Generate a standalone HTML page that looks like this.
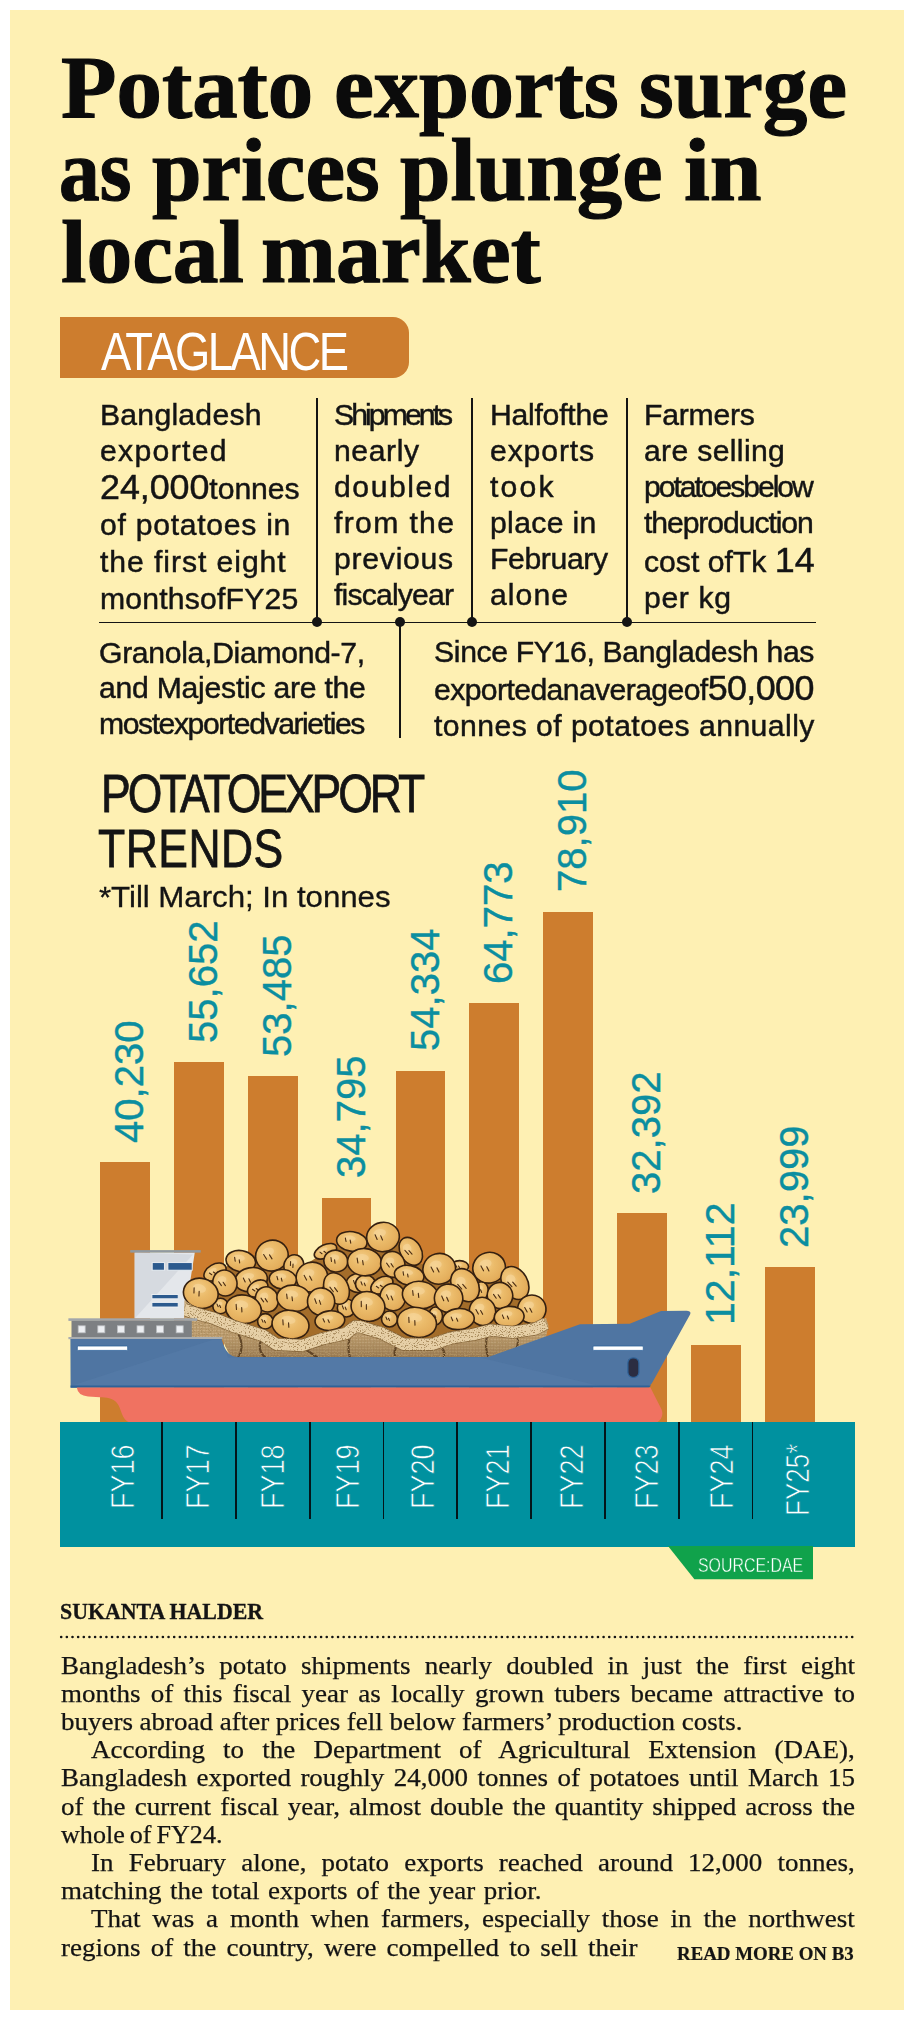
<!DOCTYPE html>
<html lang="en"><head><meta charset="utf-8"><title>Potato exports surge as prices plunge in local market</title>
<style>
html,body{margin:0;padding:0;background:#fff;}
body{width:914px;height:2020px;position:relative;overflow:hidden;font-family:"Liberation Sans",sans-serif;}
#panel{position:absolute;left:10px;top:10px;width:894px;height:2000px;background:#FEF0B3;}
.abs{position:absolute;}
.body{position:absolute;left:60px;width:795px;font-family:"Liberation Serif",serif;font-size:24px;line-height:28.2px;color:#141414;white-space:nowrap;text-align:justify;text-align-last:justify;}
</style></head><body>
<div id="panel"></div>
<div class="abs" style="left:59.70px;top:317.10px;width:349.70px;height:60.70px;background:#CD7D2E;border-radius:0 16px 16px 0;"></div>
<div class="abs" style="left:99.00px;top:621.60px;width:717.00px;height:1.60px;background:#141414;"></div>
<div class="abs" style="left:316.20px;top:398.00px;width:1.60px;height:224.00px;background:#141414;"></div>
<div class="abs" style="left:471.20px;top:398.00px;width:1.60px;height:224.00px;background:#141414;"></div>
<div class="abs" style="left:626.20px;top:398.00px;width:1.60px;height:224.00px;background:#141414;"></div>
<div class="abs" style="left:399.20px;top:622.00px;width:1.60px;height:116.00px;background:#141414;"></div>
<div class="abs" style="left:312.00px;top:617.40px;width:10.00px;height:10.00px;background:#141414;border-radius:50%;"></div>
<div class="abs" style="left:395.00px;top:617.40px;width:10.00px;height:10.00px;background:#141414;border-radius:50%;"></div>
<div class="abs" style="left:467.00px;top:617.40px;width:10.00px;height:10.00px;background:#141414;border-radius:50%;"></div>
<div class="abs" style="left:622.00px;top:617.40px;width:10.00px;height:10.00px;background:#141414;border-radius:50%;"></div>
<div class="abs" style="left:100.10px;top:1162.31px;width:49.80px;height:261.69px;background:#CD7D2E;"></div>
<div class="abs" style="left:173.95px;top:1062.38px;width:49.80px;height:361.62px;background:#CD7D2E;"></div>
<div class="abs" style="left:247.80px;top:1076.42px;width:49.80px;height:347.58px;background:#CD7D2E;"></div>
<div class="abs" style="left:321.65px;top:1197.53px;width:49.80px;height:226.47px;background:#CD7D2E;"></div>
<div class="abs" style="left:395.50px;top:1070.92px;width:49.80px;height:353.08px;background:#CD7D2E;"></div>
<div class="abs" style="left:469.35px;top:1003.27px;width:49.80px;height:420.73px;background:#CD7D2E;"></div>
<div class="abs" style="left:543.20px;top:911.66px;width:49.80px;height:512.34px;background:#CD7D2E;"></div>
<div class="abs" style="left:617.05px;top:1213.10px;width:49.80px;height:210.90px;background:#CD7D2E;"></div>
<div class="abs" style="left:690.90px;top:1344.51px;width:49.80px;height:79.49px;background:#CD7D2E;"></div>
<div class="abs" style="left:764.75px;top:1267.49px;width:49.80px;height:156.51px;background:#CD7D2E;"></div>
<svg class="abs" style="left:60px;top:1220px" width="640" height="205" viewBox="0 0 640 205">
<defs>
<radialGradient id="pg" cx="0.4" cy="0.35" r="0.85"><stop offset="0" stop-color="#F4CE8A"/><stop offset="0.35" stop-color="#EBBB6A"/><stop offset="0.68" stop-color="#E4AE5C"/><stop offset="0.88" stop-color="#CF9140"/><stop offset="1" stop-color="#B87A2C"/></radialGradient>
<pattern id="burlap" width="4" height="4" patternUnits="userSpaceOnUse"><rect width="4" height="4" fill="#E3CBA0"/><path d="M0 1H4M0 3H4" stroke="#B6935F" stroke-width="0.7"/><path d="M1 0V4M3 0V4" stroke="#CDAE7E" stroke-width="0.6"/></pattern>
<pattern id="burlap2" width="3" height="3" patternUnits="userSpaceOnUse"><rect width="3" height="3" fill="#D3B689"/><path d="M0 1H3" stroke="#A5804F" stroke-width="0.6"/><path d="M1.5 0V3" stroke="#BC9A68" stroke-width="0.5"/></pattern>
<linearGradient id="sackshade" x1="0" y1="0" x2="0" y2="1"><stop offset="0" stop-color="#5a3a18" stop-opacity="0"/><stop offset="0.6" stop-color="#5a3a18" stop-opacity="0.1"/><stop offset="1" stop-color="#4a2c10" stop-opacity="0.4"/></linearGradient>
<filter id="speck" x="0" y="0" width="100%" height="100%"><feTurbulence type="fractalNoise" baseFrequency="0.75 0.9" numOctaves="2" seed="3" result="n"/><feColorMatrix in="n" type="matrix" values="0 0 0 0 0.42  0 0 0 0 0.28  0 0 0 0 0.12  0 0 0 -9 3.95" result="sp"/><feComposite in="sp" in2="SourceGraphic" operator="in" result="spc"/><feMerge><feMergeNode in="SourceGraphic"/><feMergeNode in="spc"/></feMerge></filter>
</defs>
<polygon points="74.7,32.4 134.8,32.4 124.3,98.5 74.7,98.5" fill="#E4E7EB"/>
<polygon points="74.7,32.4 133.0,34.4 74.7,98.5" fill="#D6DAE0"/>
<rect x="70.2" y="30.1" width="70.5" height="2.5" fill="#9199A0"/>
<rect x="92.2" y="42.6" width="12.2" height="7.6" fill="#2C5A8E" stroke="#F2F4F6" stroke-width="0.9"/>
<rect x="107.9" y="42.6" width="24.3" height="7.6" fill="#2C5A8E" stroke="#F2F4F6" stroke-width="0.9"/>
<rect x="91.9" y="74.5" width="26.3" height="4.3" fill="#2C5A8E" stroke="#F2F4F6" stroke-width="0.9"/>
<rect x="91.9" y="82.4" width="26.3" height="4.6" fill="#2C5A8E" stroke="#F2F4F6" stroke-width="0.9"/>
<polygon points="132.0,80.0 136.0,70.0 148.0,64.0 158.0,54.0 172.0,42.0 192.0,36.0 204.0,32.0 216.0,30.0 226.0,34.0 232.0,44.0 243.0,46.0 256.0,38.0 272.0,32.0 285.0,23.0 306.0,16.0 322.0,12.0 334.0,16.0 342.0,26.0 354.0,30.0 360.0,44.0 376.0,44.0 390.0,46.0 398.0,54.0 414.0,50.0 428.0,42.0 440.0,46.0 446.0,56.0 458.0,60.0 464.0,72.0 468.0,82.0 478.0,86.0 482.0,98.0 482.0,120.0 136.0,120.0" fill="#A46D2A"/>
<g transform="translate(155.0 52.0) rotate(-30)"><ellipse rx="12.0" ry="7.7" fill="url(#pg)" stroke="#352010" stroke-width="1.6"/><ellipse cx="-1.8" cy="-2.3" rx="4.6" ry="2.2" fill="#F7D79C" opacity="0.6"/><path d="M-5.4 -1.9 l1.2 2.7 M-1.4 -0.8 l1 2.3" stroke="#4a2c12" stroke-width="1.1" stroke-linecap="round" fill="none"/></g>
<g transform="translate(265.5 31.3) rotate(-25)"><ellipse rx="12.0" ry="6.6" fill="url(#pg)" stroke="#352010" stroke-width="1.6"/><ellipse cx="-1.8" cy="-2.0" rx="4.6" ry="1.8" fill="#F7D79C" opacity="0.6"/><path d="M-5.4 -1.6 l1.2 2.3 M-1.4 -0.7 l1 2.0" stroke="#4a2c12" stroke-width="1.1" stroke-linecap="round" fill="none"/></g>
<g transform="translate(299.4 63.0) rotate(0)"><ellipse rx="13.0" ry="9.8" fill="url(#pg)" stroke="#352010" stroke-width="1.6"/><ellipse cx="-1.9" cy="-2.9" rx="4.9" ry="2.7" fill="#F7D79C" opacity="0.6"/><path d="M-5.9 -2.5 l1.2 3.4 M-1.6 -1.0 l1 2.9" stroke="#4a2c12" stroke-width="1.1" stroke-linecap="round" fill="none"/></g>
<g transform="translate(305.5 64.0) rotate(0)"><ellipse rx="10.0" ry="9.0" fill="url(#pg)" stroke="#352010" stroke-width="1.6"/><ellipse cx="-1.5" cy="-2.7" rx="3.8" ry="2.5" fill="#F7D79C" opacity="0.6"/><path d="M-4.5 -2.2 l1.2 3.1 M-1.2 -0.9 l1 2.7" stroke="#4a2c12" stroke-width="1.1" stroke-linecap="round" fill="none"/></g>
<g transform="translate(399.6 46.6) rotate(0)"><ellipse rx="9.0" ry="6.0" fill="url(#pg)" stroke="#352010" stroke-width="1.6"/><ellipse cx="-1.3" cy="-1.8" rx="3.4" ry="1.7" fill="#F7D79C" opacity="0.6"/><path d="M-4.0 -1.5 l1.2 2.1 M-1.1 -0.6 l1 1.8" stroke="#4a2c12" stroke-width="1.1" stroke-linecap="round" fill="none"/></g>
<g transform="translate(421.4 70.6) rotate(0)"><ellipse rx="7.0" ry="9.0" fill="url(#pg)" stroke="#352010" stroke-width="1.6"/><ellipse cx="-1.1" cy="-2.7" rx="2.7" ry="2.5" fill="#F7D79C" opacity="0.6"/><path d="M-3.1 -2.2 l1.2 3.1 M-0.8 -0.9 l1 2.7" stroke="#4a2c12" stroke-width="1.1" stroke-linecap="round" fill="none"/></g>
<g transform="translate(286.3 88.0) rotate(0)"><ellipse rx="9.0" ry="9.0" fill="url(#pg)" stroke="#352010" stroke-width="1.6"/><ellipse cx="-1.3" cy="-2.7" rx="3.4" ry="2.5" fill="#F7D79C" opacity="0.6"/><path d="M-4.0 -2.2 l1.2 3.1 M-1.1 -0.9 l1 2.7" stroke="#4a2c12" stroke-width="1.1" stroke-linecap="round" fill="none"/></g>
<g transform="translate(329.5 99.0) rotate(0)"><ellipse rx="8.0" ry="8.0" fill="url(#pg)" stroke="#352010" stroke-width="1.6"/><ellipse cx="-1.2" cy="-2.4" rx="3.0" ry="2.2" fill="#F7D79C" opacity="0.6"/><path d="M-3.6 -2.0 l1.2 2.8 M-1.0 -0.8 l1 2.4" stroke="#4a2c12" stroke-width="1.1" stroke-linecap="round" fill="none"/></g>
<g transform="translate(375.5 96.0) rotate(0)"><ellipse rx="7.0" ry="9.0" fill="url(#pg)" stroke="#352010" stroke-width="1.6"/><ellipse cx="-1.1" cy="-2.7" rx="2.7" ry="2.5" fill="#F7D79C" opacity="0.6"/><path d="M-3.1 -2.2 l1.2 3.1 M-0.8 -0.9 l1 2.7" stroke="#4a2c12" stroke-width="1.1" stroke-linecap="round" fill="none"/></g>
<g transform="translate(205.3 101.3) rotate(0)"><ellipse rx="7.7" ry="7.7" fill="url(#pg)" stroke="#352010" stroke-width="1.6"/><ellipse cx="-1.2" cy="-2.3" rx="2.9" ry="2.2" fill="#F7D79C" opacity="0.6"/><path d="M-3.5 -1.9 l1.2 2.7 M-0.9 -0.8 l1 2.3" stroke="#4a2c12" stroke-width="1.1" stroke-linecap="round" fill="none"/></g>
<g transform="translate(160.5 86.0) rotate(0)"><ellipse rx="7.7" ry="7.7" fill="url(#pg)" stroke="#352010" stroke-width="1.6"/><ellipse cx="-1.2" cy="-2.3" rx="2.9" ry="2.2" fill="#F7D79C" opacity="0.6"/><path d="M-3.5 -1.9 l1.2 2.7 M-0.9 -0.8 l1 2.3" stroke="#4a2c12" stroke-width="1.1" stroke-linecap="round" fill="none"/></g>
<g transform="translate(323.0 17.0) rotate(-10)"><ellipse rx="16.4" ry="14.6" fill="url(#pg)" stroke="#352010" stroke-width="1.6"/><ellipse cx="-2.5" cy="-4.4" rx="6.2" ry="4.1" fill="#F7D79C" opacity="0.6"/><path d="M-7.4 -3.6 l1.2 5.1 M-2.0 -1.5 l1 4.4" stroke="#4a2c12" stroke-width="1.1" stroke-linecap="round" fill="none"/></g>
<g transform="translate(291.8 21.4) rotate(8)"><ellipse rx="15.3" ry="9.8" fill="url(#pg)" stroke="#352010" stroke-width="1.6"/><ellipse cx="-2.3" cy="-2.9" rx="5.8" ry="2.7" fill="#F7D79C" opacity="0.6"/><path d="M-6.9 -2.5 l1.2 3.4 M-1.8 -1.0 l1 2.9" stroke="#4a2c12" stroke-width="1.1" stroke-linecap="round" fill="none"/></g>
<g transform="translate(350.8 31.3) rotate(-30)"><ellipse rx="10.5" ry="14.9" fill="url(#pg)" stroke="#352010" stroke-width="1.6"/><ellipse cx="-1.6" cy="-4.5" rx="4.0" ry="4.2" fill="#F7D79C" opacity="0.6"/><path d="M-4.7 -3.7 l1.2 5.2 M-1.3 -1.5 l1 4.5" stroke="#4a2c12" stroke-width="1.1" stroke-linecap="round" fill="none"/></g>
<g transform="translate(211.9 35.6) rotate(-20)"><ellipse rx="16.4" ry="15.3" fill="url(#pg)" stroke="#352010" stroke-width="1.6"/><ellipse cx="-2.5" cy="-4.6" rx="6.2" ry="4.3" fill="#F7D79C" opacity="0.6"/><path d="M-7.4 -3.8 l1.2 5.4 M-2.0 -1.5 l1 4.6" stroke="#4a2c12" stroke-width="1.1" stroke-linecap="round" fill="none"/></g>
<g transform="translate(180.8 41.1) rotate(10)"><ellipse rx="14.9" ry="10.5" fill="url(#pg)" stroke="#352010" stroke-width="1.6"/><ellipse cx="-2.2" cy="-3.1" rx="5.7" ry="2.9" fill="#F7D79C" opacity="0.6"/><path d="M-6.7 -2.6 l1.2 3.7 M-1.8 -1.1 l1 3.1" stroke="#4a2c12" stroke-width="1.1" stroke-linecap="round" fill="none"/></g>
<g transform="translate(275.8 41.1) rotate(10)"><ellipse rx="12.0" ry="10.9" fill="url(#pg)" stroke="#352010" stroke-width="1.6"/><ellipse cx="-1.8" cy="-3.3" rx="4.6" ry="3.1" fill="#F7D79C" opacity="0.6"/><path d="M-5.4 -2.7 l1.2 3.8 M-1.4 -1.1 l1 3.3" stroke="#4a2c12" stroke-width="1.1" stroke-linecap="round" fill="none"/></g>
<g transform="translate(304.5 42.2) rotate(5)"><ellipse rx="17.0" ry="13.6" fill="url(#pg)" stroke="#352010" stroke-width="1.6"/><ellipse cx="-2.5" cy="-4.1" rx="6.5" ry="3.8" fill="#F7D79C" opacity="0.6"/><path d="M-7.7 -3.4 l1.2 4.8 M-2.0 -1.4 l1 4.1" stroke="#4a2c12" stroke-width="1.1" stroke-linecap="round" fill="none"/></g>
<g transform="translate(233.8 45.5) rotate(20)"><ellipse rx="9.8" ry="10.9" fill="url(#pg)" stroke="#352010" stroke-width="1.6"/><ellipse cx="-1.5" cy="-3.3" rx="3.7" ry="3.1" fill="#F7D79C" opacity="0.6"/><path d="M-4.4 -2.7 l1.2 3.8 M-1.2 -1.1 l1 3.3" stroke="#4a2c12" stroke-width="1.1" stroke-linecap="round" fill="none"/></g>
<g transform="translate(332.8 44.4) rotate(-20)"><ellipse rx="12.0" ry="13.1" fill="url(#pg)" stroke="#352010" stroke-width="1.6"/><ellipse cx="-1.8" cy="-3.9" rx="4.6" ry="3.7" fill="#F7D79C" opacity="0.6"/><path d="M-5.4 -3.3 l1.2 4.6 M-1.4 -1.3 l1 3.9" stroke="#4a2c12" stroke-width="1.1" stroke-linecap="round" fill="none"/></g>
<g transform="translate(379.2 48.8) rotate(-15)"><ellipse rx="16.4" ry="15.3" fill="url(#pg)" stroke="#352010" stroke-width="1.6"/><ellipse cx="-2.5" cy="-4.6" rx="6.2" ry="4.3" fill="#F7D79C" opacity="0.6"/><path d="M-7.4 -3.8 l1.2 5.4 M-2.0 -1.5 l1 4.6" stroke="#4a2c12" stroke-width="1.1" stroke-linecap="round" fill="none"/></g>
<g transform="translate(429.1 47.7) rotate(-15)"><ellipse rx="16.4" ry="15.3" fill="url(#pg)" stroke="#352010" stroke-width="1.6"/><ellipse cx="-2.5" cy="-4.6" rx="6.2" ry="4.3" fill="#F7D79C" opacity="0.6"/><path d="M-7.4 -3.8 l1.2 5.4 M-2.0 -1.5 l1 4.6" stroke="#4a2c12" stroke-width="1.1" stroke-linecap="round" fill="none"/></g>
<g transform="translate(349.2 55.3) rotate(10)"><ellipse rx="14.9" ry="9.8" fill="url(#pg)" stroke="#352010" stroke-width="1.6"/><ellipse cx="-2.2" cy="-2.9" rx="5.7" ry="2.7" fill="#F7D79C" opacity="0.6"/><path d="M-6.7 -2.5 l1.2 3.4 M-1.8 -1.0 l1 2.9" stroke="#4a2c12" stroke-width="1.1" stroke-linecap="round" fill="none"/></g>
<g transform="translate(251.9 57.1) rotate(-15)"><ellipse rx="15.8" ry="14.9" fill="url(#pg)" stroke="#352010" stroke-width="1.6"/><ellipse cx="-2.4" cy="-4.5" rx="6.0" ry="4.2" fill="#F7D79C" opacity="0.6"/><path d="M-7.1 -3.7 l1.2 5.2 M-1.9 -1.5 l1 4.5" stroke="#4a2c12" stroke-width="1.1" stroke-linecap="round" fill="none"/></g>
<g transform="translate(222.8 59.3) rotate(5)"><ellipse rx="13.6" ry="9.8" fill="url(#pg)" stroke="#352010" stroke-width="1.6"/><ellipse cx="-2.0" cy="-2.9" rx="5.2" ry="2.7" fill="#F7D79C" opacity="0.6"/><path d="M-6.1 -2.5 l1.2 3.4 M-1.6 -1.0 l1 2.9" stroke="#4a2c12" stroke-width="1.1" stroke-linecap="round" fill="none"/></g>
<g transform="translate(191.1 59.7) rotate(-10)"><ellipse rx="16.4" ry="12.0" fill="url(#pg)" stroke="#352010" stroke-width="1.6"/><ellipse cx="-2.5" cy="-3.6" rx="6.2" ry="3.4" fill="#F7D79C" opacity="0.6"/><path d="M-7.4 -3.0 l1.2 4.2 M-2.0 -1.2 l1 3.6" stroke="#4a2c12" stroke-width="1.1" stroke-linecap="round" fill="none"/></g>
<g transform="translate(164.9 63.0) rotate(-20)"><ellipse rx="12.0" ry="13.1" fill="url(#pg)" stroke="#352010" stroke-width="1.6"/><ellipse cx="-1.8" cy="-3.9" rx="4.6" ry="3.7" fill="#F7D79C" opacity="0.6"/><path d="M-5.4 -3.3 l1.2 4.6 M-1.4 -1.3 l1 3.9" stroke="#4a2c12" stroke-width="1.1" stroke-linecap="round" fill="none"/></g>
<g transform="translate(405.0 65.2) rotate(-30)"><ellipse rx="13.1" ry="17.5" fill="url(#pg)" stroke="#352010" stroke-width="1.6"/><ellipse cx="-2.0" cy="-5.2" rx="5.0" ry="4.9" fill="#F7D79C" opacity="0.6"/><path d="M-5.9 -4.4 l1.2 6.1 M-1.6 -1.8 l1 5.2" stroke="#4a2c12" stroke-width="1.1" stroke-linecap="round" fill="none"/></g>
<g transform="translate(454.9 63.0) rotate(-30)"><ellipse rx="12.7" ry="17.5" fill="url(#pg)" stroke="#352010" stroke-width="1.6"/><ellipse cx="-1.9" cy="-5.2" rx="4.8" ry="4.9" fill="#F7D79C" opacity="0.6"/><path d="M-5.7 -4.4 l1.2 6.1 M-1.5 -1.8 l1 5.2" stroke="#4a2c12" stroke-width="1.1" stroke-linecap="round" fill="none"/></g>
<g transform="translate(321.9 65.2) rotate(-30)"><ellipse rx="12.0" ry="7.7" fill="url(#pg)" stroke="#352010" stroke-width="1.6"/><ellipse cx="-1.8" cy="-2.3" rx="4.6" ry="2.2" fill="#F7D79C" opacity="0.6"/><path d="M-5.4 -1.9 l1.2 2.7 M-1.4 -0.8 l1 2.3" stroke="#4a2c12" stroke-width="1.1" stroke-linecap="round" fill="none"/></g>
<g transform="translate(276.5 68.5) rotate(-25)"><ellipse rx="12.0" ry="16.4" fill="url(#pg)" stroke="#352010" stroke-width="1.6"/><ellipse cx="-1.8" cy="-4.9" rx="4.6" ry="4.6" fill="#F7D79C" opacity="0.6"/><path d="M-5.4 -4.1 l1.2 5.7 M-1.4 -1.6 l1 4.9" stroke="#4a2c12" stroke-width="1.1" stroke-linecap="round" fill="none"/></g>
<g transform="translate(197.7 68.5) rotate(-30)"><ellipse rx="10.9" ry="7.7" fill="url(#pg)" stroke="#352010" stroke-width="1.6"/><ellipse cx="-1.6" cy="-2.3" rx="4.1" ry="2.2" fill="#F7D79C" opacity="0.6"/><path d="M-4.9 -1.9 l1.2 2.7 M-1.3 -0.8 l1 2.3" stroke="#4a2c12" stroke-width="1.1" stroke-linecap="round" fill="none"/></g>
<g transform="translate(140.8 73.3) rotate(15)"><ellipse rx="17.5" ry="14.9" fill="url(#pg)" stroke="#352010" stroke-width="1.6"/><ellipse cx="-2.6" cy="-4.5" rx="6.7" ry="4.2" fill="#F7D79C" opacity="0.6"/><path d="M-7.9 -3.7 l1.2 5.2 M-2.1 -1.5 l1 4.5" stroke="#4a2c12" stroke-width="1.1" stroke-linecap="round" fill="none"/></g>
<g transform="translate(206.9 79.4) rotate(-20)"><ellipse rx="11.4" ry="12.7" fill="url(#pg)" stroke="#352010" stroke-width="1.6"/><ellipse cx="-1.7" cy="-3.8" rx="4.3" ry="3.6" fill="#F7D79C" opacity="0.6"/><path d="M-5.1 -3.2 l1.2 4.4 M-1.4 -1.3 l1 3.8" stroke="#4a2c12" stroke-width="1.1" stroke-linecap="round" fill="none"/></g>
<g transform="translate(233.8 78.3) rotate(8)"><ellipse rx="17.0" ry="13.1" fill="url(#pg)" stroke="#352010" stroke-width="1.6"/><ellipse cx="-2.5" cy="-3.9" rx="6.5" ry="3.7" fill="#F7D79C" opacity="0.6"/><path d="M-7.7 -3.3 l1.2 4.6 M-2.0 -1.3 l1 3.9" stroke="#4a2c12" stroke-width="1.1" stroke-linecap="round" fill="none"/></g>
<g transform="translate(261.1 81.6) rotate(-5)"><ellipse rx="13.6" ry="13.6" fill="url(#pg)" stroke="#352010" stroke-width="1.6"/><ellipse cx="-2.0" cy="-4.1" rx="5.2" ry="3.8" fill="#F7D79C" opacity="0.6"/><path d="M-6.1 -3.4 l1.2 4.8 M-1.6 -1.4 l1 4.1" stroke="#4a2c12" stroke-width="1.1" stroke-linecap="round" fill="none"/></g>
<g transform="translate(332.8 77.2) rotate(-10)"><ellipse rx="12.7" ry="13.6" fill="url(#pg)" stroke="#352010" stroke-width="1.6"/><ellipse cx="-1.9" cy="-4.1" rx="4.8" ry="3.8" fill="#F7D79C" opacity="0.6"/><path d="M-5.7 -3.4 l1.2 4.8 M-1.5 -1.4 l1 4.1" stroke="#4a2c12" stroke-width="1.1" stroke-linecap="round" fill="none"/></g>
<g transform="translate(360.2 75.0) rotate(8)"><ellipse rx="17.9" ry="13.6" fill="url(#pg)" stroke="#352010" stroke-width="1.6"/><ellipse cx="-2.7" cy="-4.1" rx="6.8" ry="3.8" fill="#F7D79C" opacity="0.6"/><path d="M-8.1 -3.4 l1.2 4.8 M-2.1 -1.4 l1 4.1" stroke="#4a2c12" stroke-width="1.1" stroke-linecap="round" fill="none"/></g>
<g transform="translate(388.6 78.3) rotate(-10)"><ellipse rx="14.2" ry="14.2" fill="url(#pg)" stroke="#352010" stroke-width="1.6"/><ellipse cx="-2.1" cy="-4.3" rx="5.4" ry="4.0" fill="#F7D79C" opacity="0.6"/><path d="M-6.4 -3.5 l1.2 5.0 M-1.7 -1.4 l1 4.3" stroke="#4a2c12" stroke-width="1.1" stroke-linecap="round" fill="none"/></g>
<g transform="translate(440.0 75.5) rotate(-20)"><ellipse rx="12.7" ry="13.1" fill="url(#pg)" stroke="#352010" stroke-width="1.6"/><ellipse cx="-1.9" cy="-3.9" rx="4.8" ry="3.7" fill="#F7D79C" opacity="0.6"/><path d="M-5.7 -3.3 l1.2 4.6 M-1.5 -1.3 l1 3.9" stroke="#4a2c12" stroke-width="1.1" stroke-linecap="round" fill="none"/></g>
<g transform="translate(183.5 89.2) rotate(10)"><ellipse rx="17.9" ry="14.2" fill="url(#pg)" stroke="#352010" stroke-width="1.6"/><ellipse cx="-2.7" cy="-4.3" rx="6.8" ry="4.0" fill="#F7D79C" opacity="0.6"/><path d="M-8.1 -3.5 l1.2 5.0 M-2.1 -1.4 l1 4.3" stroke="#4a2c12" stroke-width="1.1" stroke-linecap="round" fill="none"/></g>
<g transform="translate(308.0 86.5) rotate(12)"><ellipse rx="17.0" ry="14.9" fill="url(#pg)" stroke="#352010" stroke-width="1.6"/><ellipse cx="-2.5" cy="-4.5" rx="6.5" ry="4.2" fill="#F7D79C" opacity="0.6"/><path d="M-7.7 -3.7 l1.2 5.2 M-2.0 -1.5 l1 4.5" stroke="#4a2c12" stroke-width="1.1" stroke-linecap="round" fill="none"/></g>
<g transform="translate(422.5 91.4) rotate(-15)"><ellipse rx="13.1" ry="14.2" fill="url(#pg)" stroke="#352010" stroke-width="1.6"/><ellipse cx="-2.0" cy="-4.3" rx="5.0" ry="4.0" fill="#F7D79C" opacity="0.6"/><path d="M-5.9 -3.5 l1.2 5.0 M-1.6 -1.4 l1 4.3" stroke="#4a2c12" stroke-width="1.1" stroke-linecap="round" fill="none"/></g>
<g transform="translate(471.8 89.2) rotate(-15)"><ellipse rx="14.2" ry="14.2" fill="url(#pg)" stroke="#352010" stroke-width="1.6"/><ellipse cx="-2.1" cy="-4.3" rx="5.4" ry="4.0" fill="#F7D79C" opacity="0.6"/><path d="M-6.4 -3.5 l1.2 5.0 M-1.7 -1.4 l1 4.3" stroke="#4a2c12" stroke-width="1.1" stroke-linecap="round" fill="none"/></g>
<g transform="translate(269.9 100.6) rotate(-5)"><ellipse rx="14.9" ry="9.8" fill="url(#pg)" stroke="#352010" stroke-width="1.6"/><ellipse cx="-2.2" cy="-2.9" rx="5.7" ry="2.7" fill="#F7D79C" opacity="0.6"/><path d="M-6.7 -2.5 l1.2 3.4 M-1.8 -1.0 l1 2.9" stroke="#4a2c12" stroke-width="1.1" stroke-linecap="round" fill="none"/></g>
<g transform="translate(398.5 99.1) rotate(-5)"><ellipse rx="15.8" ry="10.5" fill="url(#pg)" stroke="#352010" stroke-width="1.6"/><ellipse cx="-2.4" cy="-3.1" rx="6.0" ry="2.9" fill="#F7D79C" opacity="0.6"/><path d="M-7.1 -2.6 l1.2 3.7 M-1.9 -1.1 l1 3.1" stroke="#4a2c12" stroke-width="1.1" stroke-linecap="round" fill="none"/></g>
<g transform="translate(449.2 96.9) rotate(-5)"><ellipse rx="14.9" ry="10.5" fill="url(#pg)" stroke="#352010" stroke-width="1.6"/><ellipse cx="-2.2" cy="-3.1" rx="5.7" ry="2.9" fill="#F7D79C" opacity="0.6"/><path d="M-6.7 -2.6 l1.2 3.7 M-1.8 -1.1 l1 3.1" stroke="#4a2c12" stroke-width="1.1" stroke-linecap="round" fill="none"/></g>
<g transform="translate(230.5 104.6) rotate(10)"><ellipse rx="18.6" ry="14.2" fill="url(#pg)" stroke="#352010" stroke-width="1.6"/><ellipse cx="-2.8" cy="-4.3" rx="7.1" ry="4.0" fill="#F7D79C" opacity="0.6"/><path d="M-8.4 -3.5 l1.2 5.0 M-2.2 -1.4 l1 4.3" stroke="#4a2c12" stroke-width="1.1" stroke-linecap="round" fill="none"/></g>
<g transform="translate(356.9 102.4) rotate(10)"><ellipse rx="19.7" ry="14.9" fill="url(#pg)" stroke="#352010" stroke-width="1.6"/><ellipse cx="-3.0" cy="-4.5" rx="7.5" ry="4.2" fill="#F7D79C" opacity="0.6"/><path d="M-8.9 -3.7 l1.2 5.2 M-2.4 -1.5 l1 4.5" stroke="#4a2c12" stroke-width="1.1" stroke-linecap="round" fill="none"/></g>
<g filter="url(#speck)">
<polygon points="124.4,80.0 136.0,88.0 152.8,92.5 174.7,101.3 203.0,110.0 216.3,118.8 242.5,119.9 262.2,113.3 286.3,107.8 295.0,101.0 300.0,101.3 321.9,107.8 343.8,118.8 372.2,118.8 391.9,112.2 413.8,108.9 431.3,104.6 453.2,106.8 475.0,103.5 486.0,98.0 488.5,106.0 484.0,125.0 480.0,140.0 172.0,140.0 162.0,119.0 131.6,119.0 124.4,105.0" fill="url(#burlap2)"/>
<polygon points="124.4,80.0 136.0,88.0 152.8,92.5 174.7,101.3 203.0,110.0 216.3,118.8 242.5,119.9 262.2,113.3 286.3,107.8 295.0,101.0 300.0,101.3 321.9,107.8 343.8,118.8 372.2,118.8 391.9,112.2 413.8,108.9 431.3,104.6 453.2,106.8 475.0,103.5 486.0,98.0 488.5,106.0 484.0,125.0 480.0,140.0 172.0,140.0 162.0,119.0 131.6,119.0 124.4,105.0" fill="url(#sackshade)"/>
<path d="M176.0,110.0 Q186.0,125.0 178.0,138.0" stroke="#4a2f14" stroke-width="2.2" fill="none" opacity="0.75" stroke-linecap="round"/>
<path d="M202.0,118.0 Q196.0,130.0 206.0,138.0" stroke="#4a2f14" stroke-width="2.2" fill="none" opacity="0.75" stroke-linecap="round"/>
<path d="M240.0,126.0 Q250.0,132.0 258.0,138.0" stroke="#4a2f14" stroke-width="2.2" fill="none" opacity="0.75" stroke-linecap="round"/>
<path d="M292.0,110.0 Q286.0,125.0 290.0,138.0" stroke="#4a2f14" stroke-width="2.2" fill="none" opacity="0.75" stroke-linecap="round"/>
<path d="M338.0,124.0 Q332.0,132.0 336.0,138.0" stroke="#4a2f14" stroke-width="2.2" fill="none" opacity="0.75" stroke-linecap="round"/>
<path d="M378.0,124.0 Q386.0,130.0 384.0,138.0" stroke="#4a2f14" stroke-width="2.2" fill="none" opacity="0.75" stroke-linecap="round"/>
<path d="M428.0,112.0 Q424.0,125.0 428.0,137.0" stroke="#4a2f14" stroke-width="2.2" fill="none" opacity="0.75" stroke-linecap="round"/>
<path d="M456.0,112.0 Q460.0,120.0 456.0,130.0" stroke="#4a2f14" stroke-width="2.2" fill="none" opacity="0.75" stroke-linecap="round"/>
<path d="M124.4,89.5 L136.0,93.5 L152.8,98.0 L174.7,106.8 L203.0,115.5 L216.3,124.3 L242.5,125.4 L262.2,118.8 L286.3,113.3 L295.0,106.5 L300.0,106.8 L321.9,113.3 L343.8,124.3 L372.2,124.3 L391.9,117.7 L413.8,114.4 L431.3,110.1 L453.2,112.3 L475.0,109.0 L486.0,103.5" stroke="#7a5a30" stroke-width="13" fill="none" stroke-linejoin="round" stroke-linecap="butt" opacity="0.9"/>
<path d="M124.4,89.5 L136.0,93.5 L152.8,98.0 L174.7,106.8 L203.0,115.5 L216.3,124.3 L242.5,125.4 L262.2,118.8 L286.3,113.3 L295.0,106.5 L300.0,106.8 L321.9,113.3 L343.8,124.3 L372.2,124.3 L391.9,117.7 L413.8,114.4 L431.3,110.1 L453.2,112.3 L475.0,109.0 L486.0,103.5" stroke="#E6CFA6" stroke-width="11.5" fill="none" stroke-linejoin="round" stroke-linecap="butt"/>
</g>
<rect x="8.4" y="98.3" width="128.8" height="2.6" fill="#A3A7AB"/>
<rect x="11.5" y="100.8" width="120.3" height="16.3" fill="#7D8083"/>
<rect x="18.2" y="105.8" width="7" height="7" fill="#EDEFF2" stroke="#B9BCC0" stroke-width="0.8"/>
<rect x="37.8" y="105.8" width="7" height="7" fill="#EDEFF2" stroke="#B9BCC0" stroke-width="0.8"/>
<rect x="57.4" y="105.8" width="7" height="7" fill="#EDEFF2" stroke="#B9BCC0" stroke-width="0.8"/>
<rect x="77.0" y="105.8" width="7" height="7" fill="#EDEFF2" stroke="#B9BCC0" stroke-width="0.8"/>
<rect x="96.6" y="105.8" width="7" height="7" fill="#EDEFF2" stroke="#B9BCC0" stroke-width="0.8"/>
<rect x="116.2" y="105.8" width="7" height="7" fill="#EDEFF2" stroke="#B9BCC0" stroke-width="0.8"/>
<rect x="8.4" y="117.0" width="154.0" height="2.2" fill="#A9ADB0"/>
<path d="M10.4,119.0 L154.0,119.0 L161.5,119.0 Q166.0,137.0 178.0,137.0 L428.5,137.0 L520.0,104.3 L569.7,103.8 L601.1,91.0 L626.5,90.8 Q632.0,91.0 629.8,95.0 L592.6,162.0 Q590.0,167.6 583.0,167.6 L10.6,167.6 Z" fill="#4F75A2"/>
<path d="M10.8,166.0 L152.0,120.0 L162.0,120.0 L168.0,137.5 L420.0,137.5 L540.0,166.0 Z" fill="#587EAA" opacity="0.5"/>
<path d="M10.6,165.6 L591.0,165.6 L589.0,167.8 L10.6,167.8 Z" fill="#2F6298"/>
<rect x="17.3" y="126.0" width="50.4" height="4.4" rx="1" fill="#FFFFFF" stroke="#2F6298" stroke-width="0.8"/>
<rect x="532.9" y="126.0" width="50.4" height="4.4" rx="1" fill="#FFFFFF" stroke="#2F6298" stroke-width="0.8"/>
<rect x="567.9" y="137.9" width="11" height="19.4" rx="5" fill="#2B2D42" stroke="#2F6298" stroke-width="1.2"/>
<path d="M16.8,167.6 L590.4,167.6 L601.6,189.5 Q604.5,198.0 596.5,202.7 L70.0,202.7 C61.0,200.0 62.0,189.0 57.0,183.0 C53.0,177.6 46.0,177.6 40.0,177.2 L28.0,176.4 Q18.0,176.0 16.8,167.6 Z" fill="#F07261"/>
</svg>
<div class="abs" style="left:59.50px;top:1422.30px;width:795.50px;height:124.30px;background:#00919F;"></div>
<div class="abs" style="left:161.20px;top:1422.30px;width:1.80px;height:97.00px;background:#04161a;"></div>
<div class="abs" style="left:235.00px;top:1422.30px;width:1.80px;height:97.00px;background:#04161a;"></div>
<div class="abs" style="left:308.80px;top:1422.30px;width:1.80px;height:97.00px;background:#04161a;"></div>
<div class="abs" style="left:382.60px;top:1422.30px;width:1.80px;height:97.00px;background:#04161a;"></div>
<div class="abs" style="left:456.40px;top:1422.30px;width:1.80px;height:97.00px;background:#04161a;"></div>
<div class="abs" style="left:530.20px;top:1422.30px;width:1.80px;height:97.00px;background:#04161a;"></div>
<div class="abs" style="left:604.00px;top:1422.30px;width:1.80px;height:97.00px;background:#04161a;"></div>
<div class="abs" style="left:677.80px;top:1422.30px;width:1.80px;height:97.00px;background:#04161a;"></div>
<div class="abs" style="left:751.60px;top:1422.30px;width:1.80px;height:97.00px;background:#04161a;"></div>
<svg class="abs" style="left:660px;top:1546px" width="160" height="36" viewBox="0 0 160 36"><polygon points="8,0 153,0 153,33.2 34.4,33.2" fill="#10A24B"/></svg>
<svg class="abs" style="left:55px;top:1632px" width="810" height="10" viewBox="0 0 810 10"><line x1="6.2" y1="5" x2="799" y2="5" stroke="#141414" stroke-width="2.6" stroke-linecap="round" stroke-dasharray="0 5.65"/></svg>
<div style="position:absolute;left:61.20px;top:43.00px;white-space:pre;line-height:1;font-family:'Liberation Serif', serif;font-size:88.5px;font-weight:700;color:#0b0b0b;transform-origin:0 74.00px;transform:scaleX(1.0262);-webkit-text-stroke:1.2px #0b0b0b;">Potato</div>
<div style="position:absolute;left:333.60px;top:43.00px;white-space:pre;line-height:1;font-family:'Liberation Serif', serif;font-size:88.5px;font-weight:700;color:#0b0b0b;transform-origin:0 74.00px;transform:scaleX(1.0164);-webkit-text-stroke:1.2px #0b0b0b;">exports</div>
<div style="position:absolute;left:638.60px;top:43.00px;white-space:pre;line-height:1;font-family:'Liberation Serif', serif;font-size:88.5px;font-weight:700;color:#0b0b0b;transform-origin:0 74.00px;transform:scaleX(1.0073);-webkit-text-stroke:1.2px #0b0b0b;">surge</div>
<div style="position:absolute;left:58.60px;top:126.00px;white-space:pre;line-height:1;font-family:'Liberation Serif', serif;font-size:88.5px;font-weight:700;color:#0b0b0b;transform-origin:0 74.00px;transform:scaleX(0.9199);-webkit-text-stroke:1.2px #0b0b0b;">as</div>
<div style="position:absolute;left:152.40px;top:126.00px;white-space:pre;line-height:1;font-family:'Liberation Serif', serif;font-size:88.5px;font-weight:700;color:#0b0b0b;transform-origin:0 74.00px;transform:scaleX(1.0067);-webkit-text-stroke:1.2px #0b0b0b;">prices</div>
<div style="position:absolute;left:400.40px;top:126.00px;white-space:pre;line-height:1;font-family:'Liberation Serif', serif;font-size:88.5px;font-weight:700;color:#0b0b0b;transform-origin:0 74.00px;transform:scaleX(1.0267);-webkit-text-stroke:1.2px #0b0b0b;">plunge</div>
<div style="position:absolute;left:683.60px;top:126.00px;white-space:pre;line-height:1;font-family:'Liberation Serif', serif;font-size:88.5px;font-weight:700;color:#0b0b0b;transform-origin:0 74.00px;transform:scaleX(1.0513);-webkit-text-stroke:1.2px #0b0b0b;">in</div>
<div style="position:absolute;left:61.00px;top:208.40px;white-space:pre;line-height:1;font-family:'Liberation Serif', serif;font-size:88.5px;font-weight:700;color:#0b0b0b;transform-origin:0 74.00px;transform:scaleX(1.0341);-webkit-text-stroke:1.2px #0b0b0b;">local</div>
<div style="position:absolute;left:260.60px;top:208.40px;white-space:pre;line-height:1;font-family:'Liberation Serif', serif;font-size:88.5px;font-weight:700;color:#0b0b0b;transform-origin:0 74.00px;transform:scaleX(1.0159);-webkit-text-stroke:1.2px #0b0b0b;">market</div>
<div style="position:absolute;left:101.00px;top:323.70px;white-space:pre;line-height:1;font-family:'Liberation Sans', sans-serif;font-size:54px;font-weight:400;color:#ffffff;transform-origin:0 46.00px;transform:scaleX(0.8400);letter-spacing:-2.995px;">ATAGLANCE</div>
<div style="position:absolute;left:99.70px;top:400.70px;white-space:pre;line-height:1;font-family:'Liberation Sans', sans-serif;font-size:29px;font-weight:400;color:#141414;transform-origin:0 24.00px;transform:scaleX(1.0400);letter-spacing:0.233px;-webkit-text-stroke:0.45px #141414;">Bangladesh</div>
<div style="position:absolute;left:99.70px;top:437.40px;white-space:pre;line-height:1;font-family:'Liberation Sans', sans-serif;font-size:29px;font-weight:400;color:#141414;transform-origin:0 24.00px;transform:scaleX(1.0400);letter-spacing:1.267px;-webkit-text-stroke:0.45px #141414;">exported</div>
<div style="position:absolute;left:99.70px;top:469.60px;white-space:pre;line-height:1;font-family:'Liberation Sans', sans-serif;font-size:29px;font-weight:400;color:#141414;transform-origin:0 29.00px;transform:scaleX(1.0400);letter-spacing:-0.062px;-webkit-text-stroke:0.45px #141414;"><span style="font-size:1.190em">24,000</span>tonnes</div>
<div style="position:absolute;left:99.70px;top:511.20px;white-space:pre;line-height:1;font-family:'Liberation Sans', sans-serif;font-size:29px;font-weight:400;color:#141414;transform-origin:0 24.00px;transform:scaleX(1.0400);letter-spacing:0.687px;-webkit-text-stroke:0.45px #141414;">of potatoes in</div>
<div style="position:absolute;left:99.70px;top:548.00px;white-space:pre;line-height:1;font-family:'Liberation Sans', sans-serif;font-size:29px;font-weight:400;color:#141414;transform-origin:0 24.00px;transform:scaleX(1.0400);letter-spacing:0.895px;-webkit-text-stroke:0.45px #141414;">the first eight</div>
<div style="position:absolute;left:99.70px;top:584.50px;white-space:pre;line-height:1;font-family:'Liberation Sans', sans-serif;font-size:29px;font-weight:400;color:#141414;transform-origin:0 24.00px;transform:scaleX(1.0400);letter-spacing:0.188px;-webkit-text-stroke:0.45px #141414;">monthsofFY25</div>
<div style="position:absolute;left:334.40px;top:400.70px;white-space:pre;line-height:1;font-family:'Liberation Sans', sans-serif;font-size:29px;font-weight:400;color:#141414;transform-origin:0 24.00px;transform:scaleX(1.0400);letter-spacing:-2.800px;-webkit-text-stroke:0.45px #141414;">Shipments</div>
<div style="position:absolute;left:334.40px;top:437.40px;white-space:pre;line-height:1;font-family:'Liberation Sans', sans-serif;font-size:29px;font-weight:400;color:#141414;transform-origin:0 24.00px;transform:scaleX(1.0400);letter-spacing:0.565px;-webkit-text-stroke:0.45px #141414;">nearly</div>
<div style="position:absolute;left:334.40px;top:473.10px;white-space:pre;line-height:1;font-family:'Liberation Sans', sans-serif;font-size:29px;font-weight:400;color:#141414;transform-origin:0 24.00px;transform:scaleX(1.0400);letter-spacing:1.483px;-webkit-text-stroke:0.45px #141414;">doubled</div>
<div style="position:absolute;left:334.40px;top:509.10px;white-space:pre;line-height:1;font-family:'Liberation Sans', sans-serif;font-size:29px;font-weight:400;color:#141414;transform-origin:0 24.00px;transform:scaleX(1.0400);letter-spacing:1.287px;-webkit-text-stroke:0.45px #141414;">from the</div>
<div style="position:absolute;left:334.40px;top:545.10px;white-space:pre;line-height:1;font-family:'Liberation Sans', sans-serif;font-size:29px;font-weight:400;color:#141414;transform-origin:0 24.00px;transform:scaleX(1.0400);letter-spacing:0.713px;-webkit-text-stroke:0.45px #141414;">previous</div>
<div style="position:absolute;left:334.40px;top:580.80px;white-space:pre;line-height:1;font-family:'Liberation Sans', sans-serif;font-size:29px;font-weight:400;color:#141414;transform-origin:0 24.00px;transform:scaleX(1.0400);letter-spacing:-0.791px;-webkit-text-stroke:0.45px #141414;">fiscalyear</div>
<div style="position:absolute;left:489.70px;top:400.70px;white-space:pre;line-height:1;font-family:'Liberation Sans', sans-serif;font-size:29px;font-weight:400;color:#141414;transform-origin:0 24.00px;transform:scaleX(1.0400);letter-spacing:-0.243px;-webkit-text-stroke:0.45px #141414;">Halfofthe</div>
<div style="position:absolute;left:489.70px;top:437.40px;white-space:pre;line-height:1;font-family:'Liberation Sans', sans-serif;font-size:29px;font-weight:400;color:#141414;transform-origin:0 24.00px;transform:scaleX(1.0400);letter-spacing:0.847px;-webkit-text-stroke:0.45px #141414;">exports</div>
<div style="position:absolute;left:489.70px;top:473.10px;white-space:pre;line-height:1;font-family:'Liberation Sans', sans-serif;font-size:29px;font-weight:400;color:#141414;transform-origin:0 24.00px;transform:scaleX(1.0400);letter-spacing:2.077px;-webkit-text-stroke:0.45px #141414;">took</div>
<div style="position:absolute;left:489.70px;top:509.10px;white-space:pre;line-height:1;font-family:'Liberation Sans', sans-serif;font-size:29px;font-weight:400;color:#141414;transform-origin:0 24.00px;transform:scaleX(1.0400);letter-spacing:0.320px;-webkit-text-stroke:0.45px #141414;">place in</div>
<div style="position:absolute;left:489.70px;top:545.10px;white-space:pre;line-height:1;font-family:'Liberation Sans', sans-serif;font-size:29px;font-weight:400;color:#141414;transform-origin:0 24.00px;transform:scaleX(1.0400);letter-spacing:-0.356px;-webkit-text-stroke:0.45px #141414;">February</div>
<div style="position:absolute;left:489.70px;top:580.80px;white-space:pre;line-height:1;font-family:'Liberation Sans', sans-serif;font-size:29px;font-weight:400;color:#141414;transform-origin:0 24.00px;transform:scaleX(1.0400);letter-spacing:1.008px;-webkit-text-stroke:0.45px #141414;">alone</div>
<div style="position:absolute;left:643.70px;top:400.70px;white-space:pre;line-height:1;font-family:'Liberation Sans', sans-serif;font-size:29px;font-weight:400;color:#141414;transform-origin:0 24.00px;transform:scaleX(1.0400);letter-spacing:-0.236px;-webkit-text-stroke:0.45px #141414;">Farmers</div>
<div style="position:absolute;left:643.70px;top:437.40px;white-space:pre;line-height:1;font-family:'Liberation Sans', sans-serif;font-size:29px;font-weight:400;color:#141414;transform-origin:0 24.00px;transform:scaleX(1.0400);letter-spacing:0.320px;-webkit-text-stroke:0.45px #141414;">are selling</div>
<div style="position:absolute;left:643.70px;top:473.10px;white-space:pre;line-height:1;font-family:'Liberation Sans', sans-serif;font-size:29px;font-weight:400;color:#141414;transform-origin:0 24.00px;transform:scaleX(1.0400);letter-spacing:-1.980px;-webkit-text-stroke:0.45px #141414;">potatoesbelow</div>
<div style="position:absolute;left:643.70px;top:509.10px;white-space:pre;line-height:1;font-family:'Liberation Sans', sans-serif;font-size:29px;font-weight:400;color:#141414;transform-origin:0 24.00px;transform:scaleX(1.0400);letter-spacing:-1.040px;-webkit-text-stroke:0.45px #141414;">theproduction</div>
<div style="position:absolute;left:643.70px;top:542.70px;white-space:pre;line-height:1;font-family:'Liberation Sans', sans-serif;font-size:29px;font-weight:400;color:#141414;transform-origin:0 29.00px;transform:scaleX(1.0400);letter-spacing:-0.004px;-webkit-text-stroke:0.45px #141414;">cost ofTk <span style="font-size:1.190em">14</span></div>
<div style="position:absolute;left:643.70px;top:584.00px;white-space:pre;line-height:1;font-family:'Liberation Sans', sans-serif;font-size:29px;font-weight:400;color:#141414;transform-origin:0 24.00px;transform:scaleX(1.0400);letter-spacing:0.628px;-webkit-text-stroke:0.45px #141414;">per kg</div>
<div style="position:absolute;left:99.20px;top:638.50px;white-space:pre;line-height:1;font-family:'Liberation Sans', sans-serif;font-size:29px;font-weight:400;color:#141414;transform-origin:0 24.00px;transform:scaleX(1.0400);letter-spacing:-0.305px;-webkit-text-stroke:0.45px #141414;">Granola,Diamond-7,</div>
<div style="position:absolute;left:99.20px;top:674.00px;white-space:pre;line-height:1;font-family:'Liberation Sans', sans-serif;font-size:29px;font-weight:400;color:#141414;transform-origin:0 24.00px;transform:scaleX(1.0400);letter-spacing:-0.238px;-webkit-text-stroke:0.45px #141414;">and Majestic are the</div>
<div style="position:absolute;left:99.20px;top:710.30px;white-space:pre;line-height:1;font-family:'Liberation Sans', sans-serif;font-size:29px;font-weight:400;color:#141414;transform-origin:0 24.00px;transform:scaleX(1.0400);letter-spacing:-1.381px;-webkit-text-stroke:0.45px #141414;">mostexportedvarieties</div>
<div style="position:absolute;left:433.90px;top:638.00px;white-space:pre;line-height:1;font-family:'Liberation Sans', sans-serif;font-size:29px;font-weight:400;color:#141414;transform-origin:0 24.00px;transform:scaleX(1.0400);letter-spacing:-0.330px;-webkit-text-stroke:0.45px #141414;">Since FY16, Bangladesh has</div>
<div style="position:absolute;left:433.90px;top:670.60px;white-space:pre;line-height:1;font-family:'Liberation Sans', sans-serif;font-size:29px;font-weight:400;color:#141414;transform-origin:0 29.00px;transform:scaleX(1.0400);letter-spacing:-0.578px;-webkit-text-stroke:0.45px #141414;">exportedanaverageof<span style="font-size:1.190em">50,000</span></div>
<div style="position:absolute;left:433.90px;top:712.40px;white-space:pre;line-height:1;font-family:'Liberation Sans', sans-serif;font-size:29px;font-weight:400;color:#141414;transform-origin:0 24.00px;transform:scaleX(1.0400);letter-spacing:0.425px;-webkit-text-stroke:0.45px #141414;">tonnes of potatoes annually</div>
<div style="position:absolute;left:101.10px;top:766.90px;white-space:pre;line-height:1;font-family:'Liberation Sans', sans-serif;font-size:53px;font-weight:400;color:#141414;transform-origin:0 45.00px;transform:scaleX(0.8400);letter-spacing:-3.645px;-webkit-text-stroke:0.8px #141414;">POTATOEXPORT</div>
<div style="position:absolute;left:98.20px;top:822.10px;white-space:pre;line-height:1;font-family:'Liberation Sans', sans-serif;font-size:53px;font-weight:400;color:#141414;transform-origin:0 45.00px;transform:scaleX(0.8400);letter-spacing:0.538px;-webkit-text-stroke:0.8px #141414;">TRENDS</div>
<div style="position:absolute;left:99.00px;top:880.80px;white-space:pre;line-height:1;font-family:'Liberation Sans', sans-serif;font-size:30.4px;font-weight:400;color:#141414;transform-origin:0 26.00px;transform:scaleX(1.0300);letter-spacing:-0.058px;-webkit-text-stroke:0.3px #141414;">*Till March; In tonnes</div>
<div style="position:absolute;left:143.20px;top:1107.81px;white-space:pre;line-height:1;font-family:'Liberation Sans', sans-serif;font-size:41.5px;font-weight:400;color:#0B8EA0;transform-origin:0 35.00px;transform:rotate(-90deg) scaleX(0.9650);-webkit-text-stroke:0.4px #0B8EA0;">40,230</div>
<div style="position:absolute;left:217.05px;top:1007.88px;white-space:pre;line-height:1;font-family:'Liberation Sans', sans-serif;font-size:41.5px;font-weight:400;color:#0B8EA0;transform-origin:0 35.00px;transform:rotate(-90deg) scaleX(0.9650);-webkit-text-stroke:0.4px #0B8EA0;">55,652</div>
<div style="position:absolute;left:290.90px;top:1021.92px;white-space:pre;line-height:1;font-family:'Liberation Sans', sans-serif;font-size:41.5px;font-weight:400;color:#0B8EA0;transform-origin:0 35.00px;transform:rotate(-90deg) scaleX(0.9650);-webkit-text-stroke:0.4px #0B8EA0;">53,485</div>
<div style="position:absolute;left:364.75px;top:1143.03px;white-space:pre;line-height:1;font-family:'Liberation Sans', sans-serif;font-size:41.5px;font-weight:400;color:#0B8EA0;transform-origin:0 35.00px;transform:rotate(-90deg) scaleX(0.9650);-webkit-text-stroke:0.4px #0B8EA0;">34,795</div>
<div style="position:absolute;left:438.60px;top:1016.42px;white-space:pre;line-height:1;font-family:'Liberation Sans', sans-serif;font-size:41.5px;font-weight:400;color:#0B8EA0;transform-origin:0 35.00px;transform:rotate(-90deg) scaleX(0.9650);-webkit-text-stroke:0.4px #0B8EA0;">54,334</div>
<div style="position:absolute;left:512.45px;top:948.77px;white-space:pre;line-height:1;font-family:'Liberation Sans', sans-serif;font-size:41.5px;font-weight:400;color:#0B8EA0;transform-origin:0 35.00px;transform:rotate(-90deg) scaleX(0.9650);-webkit-text-stroke:0.4px #0B8EA0;">64,773</div>
<div style="position:absolute;left:586.30px;top:857.16px;white-space:pre;line-height:1;font-family:'Liberation Sans', sans-serif;font-size:41.5px;font-weight:400;color:#0B8EA0;transform-origin:0 35.00px;transform:rotate(-90deg) scaleX(0.9650);-webkit-text-stroke:0.4px #0B8EA0;">78,910</div>
<div style="position:absolute;left:660.15px;top:1158.60px;white-space:pre;line-height:1;font-family:'Liberation Sans', sans-serif;font-size:41.5px;font-weight:400;color:#0B8EA0;transform-origin:0 35.00px;transform:rotate(-90deg) scaleX(0.9650);-webkit-text-stroke:0.4px #0B8EA0;">32,392</div>
<div style="position:absolute;left:734.00px;top:1290.01px;white-space:pre;line-height:1;font-family:'Liberation Sans', sans-serif;font-size:41.5px;font-weight:400;color:#0B8EA0;transform-origin:0 35.00px;transform:rotate(-90deg) scaleX(0.9890);-webkit-text-stroke:0.4px #0B8EA0;">12,112</div>
<div style="position:absolute;left:807.85px;top:1212.99px;white-space:pre;line-height:1;font-family:'Liberation Sans', sans-serif;font-size:41.5px;font-weight:400;color:#0B8EA0;transform-origin:0 35.00px;transform:rotate(-90deg) scaleX(0.9650);-webkit-text-stroke:0.4px #0B8EA0;">23,999</div>
<div style="position:absolute;left:134.00px;top:1479.50px;white-space:pre;line-height:1;font-family:'Liberation Sans', sans-serif;font-size:34px;font-weight:400;color:#ffffff;transform-origin:0 29.00px;transform:rotate(-90deg) scaleX(0.7937);-webkit-text-stroke:0.8px #00919F;">FY16</div>
<div style="position:absolute;left:208.90px;top:1479.50px;white-space:pre;line-height:1;font-family:'Liberation Sans', sans-serif;font-size:34px;font-weight:400;color:#ffffff;transform-origin:0 29.00px;transform:rotate(-90deg) scaleX(0.7937);-webkit-text-stroke:0.8px #00919F;">FY17</div>
<div style="position:absolute;left:283.80px;top:1479.50px;white-space:pre;line-height:1;font-family:'Liberation Sans', sans-serif;font-size:34px;font-weight:400;color:#ffffff;transform-origin:0 29.00px;transform:rotate(-90deg) scaleX(0.7937);-webkit-text-stroke:0.8px #00919F;">FY18</div>
<div style="position:absolute;left:358.70px;top:1479.50px;white-space:pre;line-height:1;font-family:'Liberation Sans', sans-serif;font-size:34px;font-weight:400;color:#ffffff;transform-origin:0 29.00px;transform:rotate(-90deg) scaleX(0.7937);-webkit-text-stroke:0.8px #00919F;">FY19</div>
<div style="position:absolute;left:433.60px;top:1479.50px;white-space:pre;line-height:1;font-family:'Liberation Sans', sans-serif;font-size:34px;font-weight:400;color:#ffffff;transform-origin:0 29.00px;transform:rotate(-90deg) scaleX(0.7937);-webkit-text-stroke:0.8px #00919F;">FY20</div>
<div style="position:absolute;left:508.50px;top:1479.50px;white-space:pre;line-height:1;font-family:'Liberation Sans', sans-serif;font-size:34px;font-weight:400;color:#ffffff;transform-origin:0 29.00px;transform:rotate(-90deg) scaleX(0.7937);-webkit-text-stroke:0.8px #00919F;">FY21</div>
<div style="position:absolute;left:583.40px;top:1479.50px;white-space:pre;line-height:1;font-family:'Liberation Sans', sans-serif;font-size:34px;font-weight:400;color:#ffffff;transform-origin:0 29.00px;transform:rotate(-90deg) scaleX(0.7937);-webkit-text-stroke:0.8px #00919F;">FY22</div>
<div style="position:absolute;left:658.30px;top:1479.50px;white-space:pre;line-height:1;font-family:'Liberation Sans', sans-serif;font-size:34px;font-weight:400;color:#ffffff;transform-origin:0 29.00px;transform:rotate(-90deg) scaleX(0.7937);-webkit-text-stroke:0.8px #00919F;">FY23</div>
<div style="position:absolute;left:733.20px;top:1479.50px;white-space:pre;line-height:1;font-family:'Liberation Sans', sans-serif;font-size:34px;font-weight:400;color:#ffffff;transform-origin:0 29.00px;transform:rotate(-90deg) scaleX(0.7937);-webkit-text-stroke:0.8px #00919F;">FY24</div>
<div style="position:absolute;left:809.30px;top:1487.30px;white-space:pre;line-height:1;font-family:'Liberation Sans', sans-serif;font-size:34px;font-weight:400;color:#ffffff;transform-origin:0 29.00px;transform:rotate(-90deg) scaleX(0.7651);-webkit-text-stroke:0.8px #00919F;">FY25*</div>
<div style="position:absolute;left:698.00px;top:1555.40px;white-space:pre;line-height:1;font-family:'Liberation Sans', sans-serif;font-size:20.3px;font-weight:400;color:#ffffff;transform-origin:0 17.00px;transform:scaleX(0.7837);-webkit-text-stroke:0.4px #10A24B;">SOURCE:DAE</div>
<div style="position:absolute;left:59.60px;top:1599.60px;white-space:pre;line-height:1;font-family:'Liberation Serif', serif;font-size:23px;font-weight:700;color:#141414;transform-origin:0 19.00px;transform:scaleX(0.9507);-webkit-text-stroke:0.3px #141414;">SUKANTA HALDER</div>
<div style="position:absolute;left:60.50px;top:1652.60px;white-space:pre;line-height:1;font-family:'Liberation Serif', serif;font-size:25px;font-weight:400;color:#141414;transform-origin:0 21.00px;transform:scaleX(1.0800);word-spacing:6.918px;-webkit-text-stroke:0.25px #141414;">Bangladesh’s potato shipments nearly doubled in just the first eight</div>
<div style="position:absolute;left:60.50px;top:1680.80px;white-space:pre;line-height:1;font-family:'Liberation Serif', serif;font-size:25px;font-weight:400;color:#141414;transform-origin:0 21.00px;transform:scaleX(1.0800);word-spacing:3.274px;-webkit-text-stroke:0.25px #141414;">months of this fiscal year as locally grown tubers became attractive to</div>
<div style="position:absolute;left:60.50px;top:1709.00px;white-space:pre;line-height:1;font-family:'Liberation Serif', serif;font-size:25px;font-weight:400;color:#141414;transform-origin:0 21.00px;transform:scaleX(1.0800);word-spacing:-0.115px;-webkit-text-stroke:0.25px #141414;">buyers abroad after prices fell below farmers’ production costs.</div>
<div style="position:absolute;left:90.70px;top:1737.20px;white-space:pre;line-height:1;font-family:'Liberation Serif', serif;font-size:25px;font-weight:400;color:#141414;transform-origin:0 21.00px;transform:scaleX(1.0800);word-spacing:10.568px;-webkit-text-stroke:0.25px #141414;">According to the Department of Agricultural Extension (DAE),</div>
<div style="position:absolute;left:60.50px;top:1765.40px;white-space:pre;line-height:1;font-family:'Liberation Serif', serif;font-size:25px;font-weight:400;color:#141414;transform-origin:0 21.00px;transform:scaleX(1.0800);word-spacing:2.524px;-webkit-text-stroke:0.25px #141414;">Bangladesh exported roughly 24,000 tonnes of potatoes until March 15</div>
<div style="position:absolute;left:60.50px;top:1793.60px;white-space:pre;line-height:1;font-family:'Liberation Serif', serif;font-size:25px;font-weight:400;color:#141414;transform-origin:0 21.00px;transform:scaleX(1.0800);word-spacing:2.165px;-webkit-text-stroke:0.25px #141414;">of the current fiscal year, almost double the quantity shipped across the</div>
<div style="position:absolute;left:60.50px;top:1821.80px;white-space:pre;line-height:1;font-family:'Liberation Serif', serif;font-size:25px;font-weight:400;color:#141414;transform-origin:0 21.00px;transform:scaleX(1.0444);word-spacing:-1.500px;-webkit-text-stroke:0.25px #141414;">whole of FY24.</div>
<div style="position:absolute;left:90.70px;top:1850.00px;white-space:pre;line-height:1;font-family:'Liberation Serif', serif;font-size:25px;font-weight:400;color:#141414;transform-origin:0 21.00px;transform:scaleX(1.0800);word-spacing:7.772px;-webkit-text-stroke:0.25px #141414;">In February alone, potato exports reached around 12,000 tonnes,</div>
<div style="position:absolute;left:60.50px;top:1878.20px;white-space:pre;line-height:1;font-family:'Liberation Serif', serif;font-size:25px;font-weight:400;color:#141414;transform-origin:0 21.00px;transform:scaleX(1.0800);word-spacing:1.672px;-webkit-text-stroke:0.25px #141414;">matching the total exports of the year prior.</div>
<div style="position:absolute;left:90.70px;top:1906.40px;white-space:pre;line-height:1;font-family:'Liberation Serif', serif;font-size:25px;font-weight:400;color:#141414;transform-origin:0 21.00px;transform:scaleX(1.0800);word-spacing:4.690px;-webkit-text-stroke:0.25px #141414;">That was a month when farmers, especially those in the northwest</div>
<div style="position:absolute;left:60.50px;top:1934.60px;white-space:pre;line-height:1;font-family:'Liberation Serif', serif;font-size:25px;font-weight:400;color:#141414;transform-origin:0 21.00px;transform:scaleX(1.0800);word-spacing:3.144px;-webkit-text-stroke:0.25px #141414;">regions of the country, were compelled to sell their</div>
<div style="position:absolute;left:677.30px;top:1944.50px;white-space:pre;line-height:1;font-family:'Liberation Serif', serif;font-size:18.6px;font-weight:700;color:#141414;transform-origin:0 15.00px;transform:scaleX(1.0152);-webkit-text-stroke:0.2px #141414;">READ MORE ON B3</div>
</body></html>
